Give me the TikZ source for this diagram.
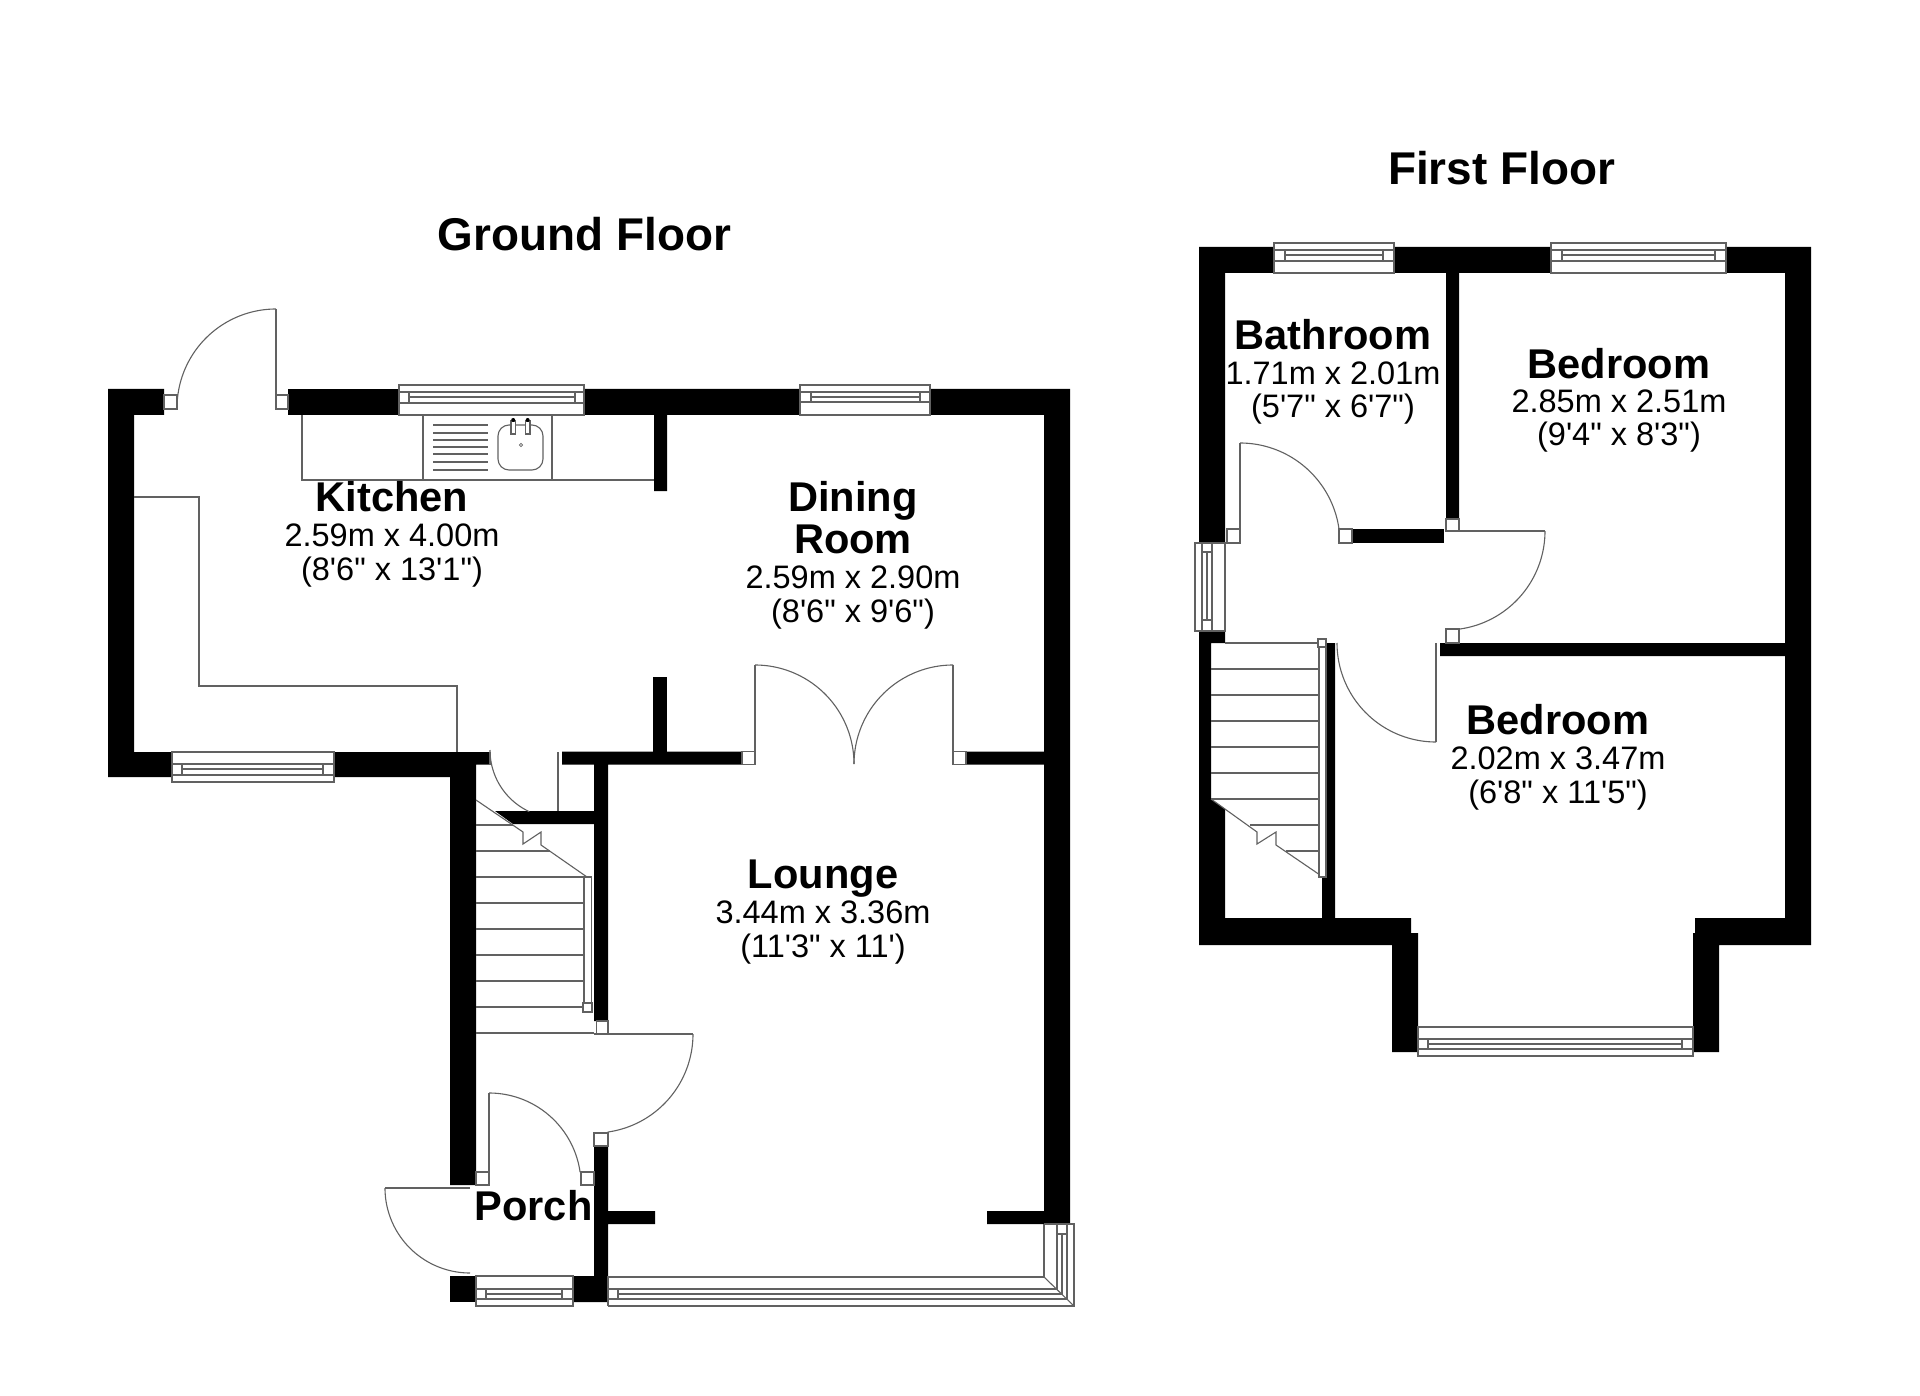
\documentclass[tikz,border=0pt]{standalone}
\usepackage{fontspec}
\setmainfont{Liberation Sans}[Ligatures=TeXOff]
\tikzset{
  wall/.style={fill=black,draw=none},
  plan/.style={draw=black!62,line width=1.1pt,line join=miter},
  jamb/.style={draw=black!62,line width=1.1pt,fill=white},
  roomname/.style={anchor=base,inner sep=0pt,font=\fontsize{41.6}{42}\selectfont\bfseries},
  dims/.style={anchor=base,inner sep=0pt,font=\fontsize{32.5}{33}\selectfont},
  floortitle/.style={anchor=base,inner sep=0pt,font=\fontsize{45.9}{46}\selectfont\bfseries}
}
% horizontal window: x1 x2 ytop y2 y3 y4 ybot tick1 tick2
\newcommand{\hwin}[9]{%
  \draw[jamb] (#1,#3) rectangle (#2,#7);
  \draw[plan] (#1,#4) -- (#2,#4) (#1,#6) -- (#2,#6) (#8,#5) -- (#9,#5) (#8,#4) -- (#8,#6) (#9,#4) -- (#9,#6);
}
\newcommand{\swing}[5]{\draw[plan] plot[domain=#4:#5,samples=50] ({#1+#3*cos(\x)},{#2+#3*sin(\x)});}
\begin{document}
\begin{tikzpicture}[x=1pt,y=-1pt]
\useasboundingbox (0,0) rectangle (1920,1396);
\fill[white] (0,0) rectangle (1920,1396);

% ---------- GROUND FLOOR: walls
\fill[wall] (108,389) -- (164,389) -- (164,415) -- (134,415) -- (134,752) -- (172,752) -- (172,777) -- (108,777) -- cycle;
\fill[wall] (334,752) -- (489,752) -- (489,764.5) -- (476,764.5) -- (476,1185) -- (450,1185) -- (450,777) -- (334,777) -- cycle;
\fill[wall] (288,389) rectangle (399,415);
\fill[wall] (584,389) -- (800,389) -- (800,415) -- (667,415) -- (667,491) -- (654,491) -- (654,415) -- (584,415) -- cycle;
\fill[wall] (930,389) -- (1070,389) -- (1070,1224) -- (987,1224) -- (987,1211) -- (1044,1211) -- (1044,764.5) -- (966,764.5) -- (966,751.5) -- (1044,751.5) -- (1044,415) -- (930,415) -- cycle;
\fill[wall] (562,751.5) -- (742,751.5) -- (742,764.5) -- (608,764.5) -- (608,1021) -- (594,1021) -- (594,824) -- (513,824) -- (495,811) -- (594,811) -- (594,764.5) -- (562,764.5) -- cycle;
\fill[wall] (653,677) rectangle (667,752);
\fill[wall] (594,1146) -- (608,1146) -- (608,1211) -- (655,1211) -- (655,1224) -- (608,1224) -- (608,1302) -- (573,1302) -- (573,1276) -- (594,1276) -- cycle;
\fill[wall] (450,1276) rectangle (476,1302);

% door jambs
\draw[jamb] (164,395) rectangle (177,409);
\draw[jamb] (276,395) rectangle (288,409);
\draw[jamb] (742,751.5) rectangle (755,764.5);
\draw[jamb] (953,751.5) rectangle (966,764.5);
\draw[jamb] (596.5,1021) rectangle (608,1034);
\draw[jamb] (594,1133) rectangle (608,1146);
\draw[jamb] (476,1172) rectangle (489,1185);
\draw[jamb] (581,1172) rectangle (594,1185);

% door leaves and swings
\draw[plan] (276,395) -- (276,309);
\swing{276}{408}{99}{180}{270}
\draw[plan] (755,751.5) -- (755,665);
\swing{755}{764}{99}{270}{360}
\draw[plan] (953,751.5) -- (953,665);
\swing{953}{764}{99}{180}{270}
\draw[plan] (594,1034) -- (693,1034);
\swing{594}{1034}{99}{0}{82}
\draw[plan] (489,1172) -- (489,1093);
\swing{489}{1185}{92}{270}{352}
\draw[plan] (470,1188) -- (385,1188);
\swing{470}{1188}{85}{90}{180}
\draw[plan] (558,752) -- (558,811);
\draw[plan] (490,752) -- (490,765);
\swing{558}{750}{68}{115}{180}

% kitchen fittings
\draw[plan] (302,415) -- (302,480) -- (654,480);
\draw[plan] (423,415) rectangle (552,480);
\foreach \yy in {425,433,440,447,454,462,470} {\draw[plan] (433,\yy) -- (488,\yy);}
\draw[plan,rounded corners=11pt] (498,425) rectangle (543,470);
\draw[jamb] (511,421) rectangle (515.5,434);
\draw[jamb] (525.5,421) rectangle (530,434);
\fill[black] (513.2,420) circle[radius=2];
\fill[black] (527.7,420) circle[radius=2];
\draw[plan,line width=.8pt] (521,445) circle[radius=1.6];
\draw[plan] (134,497) -- (199,497) -- (199,686) -- (457,686) -- (457,752);

% ground floor stairs
\draw[plan] (476,825) -- (513,825);
\draw[plan] (476,851) -- (550,851);
\foreach \yy in {877,903,929,955,981,1007} {\draw[plan] (476,\yy) -- (584,\yy);}
\draw[plan] (476,1033) -- (594,1033);
\draw[plan] (476,800) -- (523,832) -- (523,844) -- (541,832) -- (541,845) -- (587,877);
\draw[jamb] (584,877) rectangle (591.5,1005);
\draw[jamb] (583,1003) rectangle (592,1012);

% ground floor windows
\hwin{399}{584}{385}{392}{397}{403}{415}{409}{575}
\hwin{800}{930}{385}{392}{397}{402}{415}{811}{920}
\hwin{172}{334}{752}{764}{769}{775}{782}{182}{323}
\hwin{476}{573}{1276}{1289}{1294}{1299}{1306}{486}{562}

% lounge corner window
\draw[plan] (608,1277) -- (1044,1277) -- (1044,1224);
\draw[plan] (608,1289) -- (1057,1289) -- (1057,1224);
\draw[plan] (618,1294) -- (1062,1294) -- (1062,1234);
\draw[plan] (608,1299) -- (1067,1299) -- (1067,1224);
\draw[plan] (608,1306) -- (1074,1306) -- (1074,1224) -- (1044,1224);
\draw[plan] (608,1276) -- (608,1306);
\draw[plan] (618,1289) -- (618,1299);
\draw[plan] (1057,1234) -- (1067,1234);
\draw[plan] (1044,1277) -- (1074,1306);

% ---------- FIRST FLOOR: walls
\fill[wall] (1199,247) -- (1274,247) -- (1274,273) -- (1225,273) -- (1225,543) -- (1199,543) -- cycle;
\fill[wall] (1394,247) -- (1551,247) -- (1551,273) -- (1459,273) -- (1459,519) -- (1446,519) -- (1446,273) -- (1394,273) -- cycle;
\fill[wall] (1726,247) -- (1811,247) -- (1811,945) -- (1719,945) -- (1719,1052) -- (1693,1052) -- (1693,933) -- (1695,933) -- (1695,918) -- (1785,918) -- (1785,656) -- (1440,656) -- (1440,643) -- (1785,643) -- (1785,273) -- (1726,273) -- cycle;
\fill[wall] (1352,529) rectangle (1444,543);
\fill[wall] (1199,631) -- (1225,631) -- (1225,643) -- (1211,643) -- (1211,799) -- (1225,809) -- (1225,918) -- (1322,918) -- (1322,877) -- (1326,877) -- (1326,643) -- (1335,643) -- (1335,918) -- (1411,918) -- (1411,933) -- (1418,933) -- (1418,1052) -- (1392,1052) -- (1392,945) -- (1199,945) -- cycle;

% first floor jambs
\draw[jamb] (1227,529) rectangle (1240,543);
\draw[jamb] (1339,529) rectangle (1352,543);
\draw[jamb] (1446,519) rectangle (1459,531);
\draw[jamb] (1446,629) rectangle (1459,643);

% first floor doors
\draw[plan] (1240,529) -- (1240,443);
\swing{1240}{543}{100}{270}{352}
\draw[plan] (1459,531) -- (1545,531);
\swing{1446}{531}{99}{0}{83}
\draw[plan] (1436,643) -- (1436,742);
\swing{1436}{643}{99}{90}{180}

% first floor stairs
\draw[plan] (1225,643) -- (1319,643);
\foreach \yy in {669,695,721,747,773,799} {\draw[plan] (1211,\yy) -- (1319,\yy);}
\draw[plan] (1250,825) -- (1319,825);
\draw[plan] (1286,851) -- (1319,851);
\draw[plan] (1211,799) -- (1257,832) -- (1257,844) -- (1276,832) -- (1276,845) -- (1320,875);
\draw[jamb] (1319,647) rectangle (1326,877);
\draw[jamb] (1318,639) rectangle (1326,647);

% first floor windows
\hwin{1274}{1394}{243}{250}{255}{261}{273}{1285}{1383}
\hwin{1551}{1726}{243}{250}{255}{261}{273}{1562}{1715}
\hwin{1418}{1693}{1027}{1039}{1044}{1049}{1056}{1428}{1682}
\draw[jamb] (1195,543) rectangle (1225,631);
\draw[plan] (1202,543) -- (1202,631) (1212,543) -- (1212,631) (1207,552) -- (1207,620) (1202,552) -- (1212,552) (1202,620) -- (1212,620);

% ---------- TEXT
\node[floortitle] (tg) at (584.5,251) {Ground Floor};
\node[floortitle] (tf) at (1501.5,185) {First Floor};

\node[roomname] (k1) at (392,511) {Kitchen};
\node[dims] (k2) at (392,546) {2.59m x 4.00m};
\node[dims] (k3) at (392,580) {(8'6" x 13'1")};

\node[roomname] (d1) at (853,511) {Dining};
\node[roomname] (d2) at (853,553) {Room};
\node[dims] (d3) at (853,588) {2.59m x 2.90m};
\node[dims] (d4) at (853,622) {(8'6" x 9'6")};

\node[roomname] (l1) at (823,888) {Lounge};
\node[dims] (l2) at (823,923) {3.44m x 3.36m};
\node[dims] (l3) at (823,957) {(11'3" x 11')};

\node[roomname] (p1) at (533.5,1220) {Porch};

\node[roomname] (b1) at (1333,350) {Bathroom};
\node[dims] (b2) at (1333,385) {1.71m x 2.01m};
\node[dims] (b3) at (1333,418) {(5'7" x 6'7")};

\node[roomname] (r1) at (1619,379) {Bedroom};
\node[dims] (r2) at (1619,413) {2.85m x 2.51m};
\node[dims] (r3) at (1619,446) {(9'4" x 8'3")};

\node[roomname] (s1) at (1558,734) {Bedroom};
\node[dims] (s2) at (1558,769) {2.02m x 3.47m};
\node[dims] (s3) at (1558,803) {(6'8" x 11'5")};
\end{tikzpicture}
\end{document}
